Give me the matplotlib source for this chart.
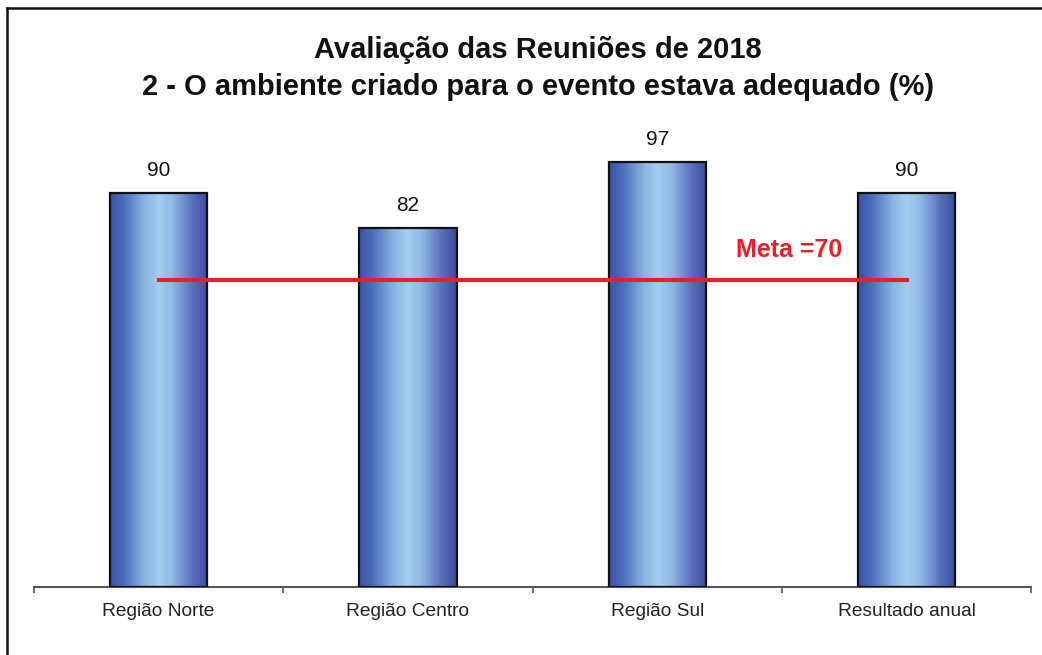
import numpy as np
import matplotlib
matplotlib.use("Agg")
import matplotlib.pyplot as plt
from matplotlib.colors import LinearSegmentedColormap
from matplotlib.lines import Line2D

plt.rcParams['font.family'] = ['Liberation Sans', 'DejaVu Sans']

categorias = ["Região Norte", "Região Centro", "Região Sul", "Resultado anual"]
valores = [90, 82, 97, 90]
meta = 70
titulo = "Avaliação das Reuniões de 2018\n2 - O ambiente criado para o evento estava adequado (%)"

fig = plt.figure(figsize=(10.42, 6.55), dpi=100)
ax = fig.add_axes([0.0326, 0.1038, 0.957, 0.6687])

# gradiente das barras (escuro nas bordas, claro no meio)
cmap = LinearSegmentedColormap.from_list("barra", [
    (0.0, "#3a52a6"), (0.15, "#5070bf"), (0.36, "#8db6e4"),
    (0.5, "#a3ccef"), (0.64, "#90b9e6"), (0.85, "#586dbb"), (1.0, "#3d4d9c")])
grad = np.linspace(0, 1, 200).reshape(1, -1)

largura = 0.39
x = np.arange(len(categorias))
for xi, v in zip(x, valores):
    ax.imshow(grad, cmap=cmap, extent=[xi - largura / 2, xi + largura / 2, 0, v],
              aspect="auto", zorder=2, interpolation="bicubic")
    ax.annotate(str(v), (xi, v), xytext=(0, 16), textcoords="offset points",
                ha="center", va="center", fontsize=15, color="#111111")
ax.bar(x, valores, width=largura, facecolor="none", edgecolor="#111111",
       linewidth=1.6, zorder=3)

# linha da meta
ax.plot([x[0], x[-1]], [meta, meta], color="#e8202a", linewidth=3, zorder=4)
ax.text(2.53, 77.0, "Meta =70", color="#e8202a", fontsize=18, fontweight="bold",
        ha="center", va="center")

ax.set_xlim(-0.5, len(categorias) - 0.5)
ax.set_ylim(0, 100)
ax.set_xticks(np.arange(len(categorias) + 1) - 0.5)
ax.set_xticklabels([])
ax.set_xticks(x, minor=True)
ax.set_xticklabels(categorias, minor=True, fontsize=13.8, color="#222222")
ax.tick_params(axis="x", which="major", length=4, width=1.2, color="#555555", direction="out")
ax.tick_params(axis="x", which="minor", length=0, pad=11.5)
ax.set_yticks([])
for s in ["top", "right", "left"]:
    ax.spines[s].set_visible(False)
ax.spines["bottom"].set_color("#555555")
ax.spines["bottom"].set_linewidth(1.5)

fig.text(0.516, 0.8955, titulo, ha="center", va="center", fontsize=21,
         fontweight="bold", color="#111111", linespacing=1.4)

# moldura do gráfico
fig.add_artist(Line2D([0.0067, 1.0], [0.9878, 0.9878], color="#111111", linewidth=1.8,
                      transform=fig.transFigure))
fig.add_artist(Line2D([0.0067, 0.0067], [0.0, 0.9878], color="#111111", linewidth=1.8,
                      transform=fig.transFigure))

fig.savefig("out.png", dpi=100)
